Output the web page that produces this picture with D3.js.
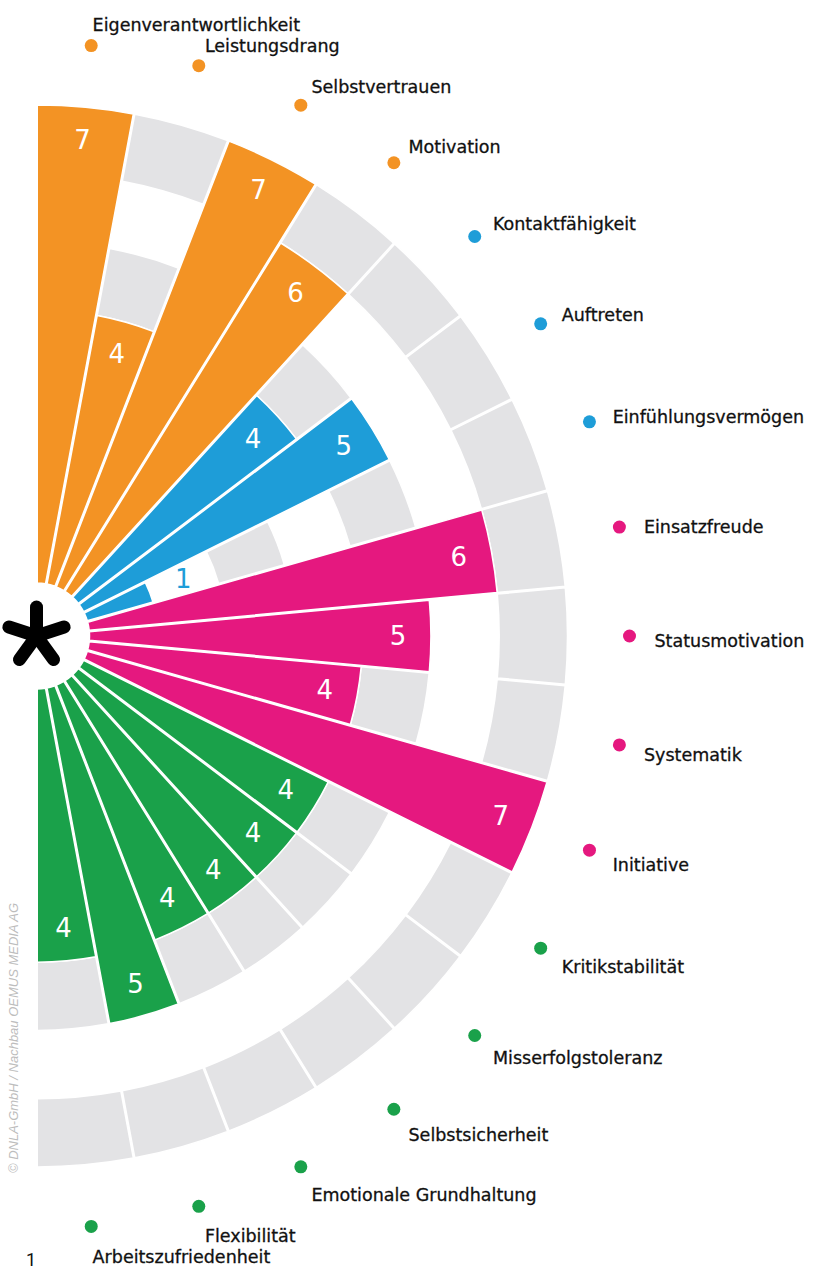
<!DOCTYPE html>
<html>
<head>
<meta charset="utf-8">
<script src="https://cdnjs.cloudflare.com/ajax/libs/d3/7.8.5/d3.min.js"></script>
<style>
	html, body { margin: 0; padding: 0; background: #fff; }
	#canvas { width: 815px; height: 1272px; }
</style>
</head>
<body>
<div id="canvas"></div>
<script>
// kategorien im uhrzeigersinn, von oben nach unten
var categories = [
	"Eigenverantwortlichkeit", "Leistungsdrang", "Selbstvertrauen", "Motivation",
	"Kontaktfähigkeit", "Auftreten", "Einfühlungsvermögen",
	"Einsatzfreude", "Statusmotivation", "Systematik", "Initiative",
	"Kritikstabilität", "Misserfolgstoleranz", "Selbstsicherheit",
	"Emotionale Grundhaltung", "Flexibilität", "Arbeitszufriedenheit"
];
var values = [7, 4, 7, 6, 4, 5, 1, 6, 5, 4, 7, 4, 4, 4, 4, 5, 4];
var groups = ["o", "o", "o", "o", "b", "b", "b", "p", "p", "p", "p", "g", "g", "g", "g", "g", "g"];
var groupColors = { o: "#f39324", b: "#1e9dd8", p: "#e5187f", g: "#1aa14a" };
// graue ringe hinter den balken
var bands = [[2, 3], [4, 5], [6, 7]];
var maxValue = 7;

var W = 815, H = 1272;
var cx = 36.5, cy = 636;

var svg = d3.select("#canvas").append("svg")
	.attr("width", W)
	.attr("height", H);

var g = svg.append("g").attr("transform", "translate(" + cx + "," + cy + ")");

var angle = d3.scaleBand()
	.domain(categories)
	.range([0, Math.PI])
	.padding(0);
var bw = angle.bandwidth();

var r = d3.scaleLinear()
	.domain([0, maxValue])
	.range([53, 531]);

var rDot = 593;

var data = categories.map(function(c, i){
	return { name: c, value: values[i], color: groupColors[groups[i]] };
});

var arc = d3.arc()
	.startAngle(function(d){ return angle(d.name); })
	.endAngle(function(d){ return angle(d.name) + bw; })
	.padAngle(0.0075)
	.padRadius(200);

var mid = function(name){
	return angle(name) + bw / 2;
};

// hintergrund
var bg = [];
data.forEach(function(d){
	bands.forEach(function(b){
		bg.push({ name: d.name, lo: b[0], hi: b[1] });
	});
});
g.selectAll("path.bg").data(bg)
	.enter().append("path")
	.attr("class", "bg")
	.attr("d", function(d){
		return arc.innerRadius(r(d.lo)).outerRadius(r(d.hi))(d);
	})
	.style("fill", "#e3e3e5")
	.style("stroke", "#fff")
	.style("stroke-width", 1.5);

// balken
g.selectAll("path.bar").data(data)
	.enter().append("path")
	.attr("class", "bar")
	.attr("d", function(d){
		return arc.innerRadius(r(0)).outerRadius(r(d.value))(d);
	})
	.style("fill", function(d){ return d.color; })
	.style("stroke", "#fff")
	.style("stroke-width", 1.5);

// werte
g.selectAll("text.val").data(data)
	.enter().append("text")
	.attr("class", "val")
	.attr("x", function(d){
		var rr = d.value > 1 ? r(d.value) - 33 : r(d.value) + 36;
		return rr * Math.sin(mid(d.name));
	})
	.attr("y", function(d){
		var rr = d.value > 1 ? r(d.value) - 33 : r(d.value) + 36;
		return -rr * Math.cos(mid(d.name));
	})
	.attr("text-anchor", "middle")
	.attr("dominant-baseline", "central")
	.style("font-family", "'DejaVu Sans', sans-serif")
	.style("font-size", "26px")
	.style("fill", function(d){ return d.value > 1 ? "#fff" : d.color; })
	.text(function(d){ return d.value; });

// punkte + beschriftung
g.selectAll("circle.dot").data(data)
	.enter().append("circle")
	.attr("class", "dot")
	.attr("r", 6.5)
	.attr("cx", function(d){ return rDot * Math.sin(mid(d.name)); })
	.attr("cy", function(d){ return -rDot * Math.cos(mid(d.name)); })
	.style("fill", function(d){ return d.color; });

g.selectAll("text.lab").data(data)
	.enter().append("text")
	.attr("class", "lab")
	.attr("x", function(d){ return (rDot + 26) * Math.sin(mid(d.name)) - 1; })
	.attr("y", function(d){ return -(rDot + 26) * Math.cos(mid(d.name)) + 11; })
	.style("font-family", "'DejaVu Sans', sans-serif")
	.style("font-size", "17.5px")
	.style("fill", "#111")
	.style("stroke", "#111")
	.style("stroke-width", 0.3)
	.text(function(d){ return d.name; });

// sternchen in der mitte
var star = g.append("g").attr("class", "star");
d3.range(5).forEach(function(i){
	var a = i * 2 * Math.PI / 5;
	star.append("line")
		.attr("x1", 0).attr("y1", 0)
		.attr("x2", 29 * Math.sin(a))
		.attr("y2", -29 * Math.cos(a))
		.attr("stroke", "#000")
		.attr("stroke-width", 13)
		.attr("stroke-linecap", "round");
});

// abbildungsnummer
svg.append("text")
	.attr("x", 26)
	.attr("y", 1266)
	.style("font-family", "Roboto, sans-serif")
	.style("font-size", "18px")
	.style("fill", "#111")
	.text("1");

// copyright senkrecht
svg.append("text")
	.attr("transform", "translate(18,1173) rotate(-90)")
	.attr("textLength", 270)
	.attr("lengthAdjust", "spacingAndGlyphs")
	.style("font-family", "'Liberation Sans Narrow', 'Liberation Sans', sans-serif")
	.style("font-style", "italic")
	.style("font-size", "13px")
	.style("fill", "#bdbdbd")
	.text("© DNLA-GmbH / Nachbau OEMUS MEDIA AG");
</script>
</body>
</html>
